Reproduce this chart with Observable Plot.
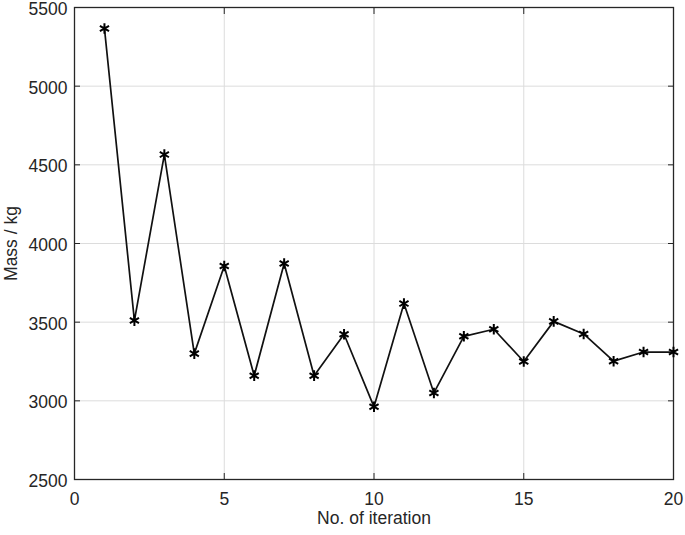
<!DOCTYPE html>
<html>
<head>
<meta charset="utf-8">
<script src="https://cdn.jsdelivr.net/npm/d3@7"></script>
<script src="https://cdn.jsdelivr.net/npm/@observablehq/plot@0.6"></script>
<style>
  html, body { margin: 0; padding: 0; background: #fff; }
  #chart { width: 685px; height: 535px; }
</style>
</head>
<body>
<div id="chart"></div>
<script>
const iterations = [1, 2, 3, 4, 5, 6, 7, 8, 9, 10, 11, 12, 13, 14, 15, 16, 17, 18, 19, 20];
const mass = [5367, 3510, 4565, 3300, 3857, 3160, 3873, 3160, 3423, 2962, 3618, 3050, 3410, 3455, 3250, 3505, 3425, 3252, 3310, 3310];
const xTicks = [0, 5, 10, 15, 20];
const yTicks = [2500, 3000, 3500, 4000, 4500, 5000, 5500];

const data = iterations.map((it, i) => ({iteration: it, mass: mass[i]}));
const axisColor = "#262626";
const fmt = d3.format("d");

const chart = Plot.plot({
  width: 685,
  height: 535,
  marginLeft: 74,
  marginRight: 12,
  marginTop: 7,
  marginBottom: 56,
  style: {fontFamily: "'Liberation Sans', Arial, sans-serif", fontSize: "17.5px", color: axisColor, background: "#fff", overflow: "visible"},
  x: {domain: [0, 20]},
  y: {domain: [2500, 5500]},
  marks: [
    Plot.gridX(xTicks, {stroke: "#dcdcdc", strokeOpacity: 1}),
    Plot.gridY(yTicks, {stroke: "#dcdcdc", strokeOpacity: 1}),
    Plot.axisX(xTicks, {anchor: "bottom", tickSize: 0, tickPadding: 13, tickFormat: fmt, label: "No. of iteration", labelAnchor: "center", labelArrow: "none", labelOffset: 44, fill: axisColor}),
    Plot.axisX(xTicks, {anchor: "bottom", tickSize: -6, tickFormat: () => "", label: null, stroke: axisColor}),
    Plot.axisX(xTicks, {anchor: "top", tickSize: -6, tickFormat: () => "", label: null, stroke: axisColor}),
    Plot.axisY(yTicks, {anchor: "left", tickSize: 0, tickPadding: 7, dy: 2, tickFormat: fmt, label: null, fill: axisColor}),
    Plot.axisY({anchor: "left", ticks: [], label: "Mass / kg", labelAnchor: "center", labelArrow: "none", labelOffset: 70, fill: axisColor}),
    Plot.axisY(yTicks, {anchor: "left", tickSize: -6, tickFormat: () => "", label: null, stroke: axisColor}),
    Plot.axisY(yTicks, {anchor: "right", tickSize: -6, tickFormat: () => "", label: null, stroke: axisColor}),
    Plot.frame({stroke: axisColor, strokeWidth: 1.3}),
    Plot.line(data, {x: "iteration", y: "mass", stroke: "#111", strokeWidth: 1.7}),
    Plot.dot(data, {x: "iteration", y: "mass", symbol: "asterisk", r: 5, stroke: "#000", strokeWidth: 2})
  ]
});
document.getElementById("chart").appendChild(chart);
</script>
</body>
</html>
